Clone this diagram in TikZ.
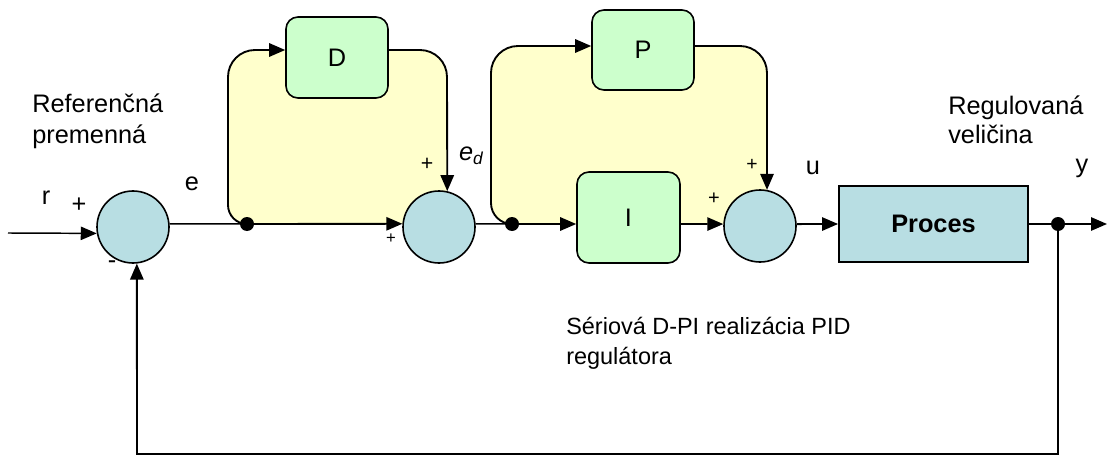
\documentclass[tikz,border=0pt]{standalone}
\usepackage{fontspec}
\setmainfont{Liberation Sans}
\usetikzlibrary{arrows.meta}
\definecolor{yel}{HTML}{FFFFCC}
\definecolor{grn}{HTML}{CCFFCC}
\definecolor{cya}{HTML}{B8DEE3}
\begin{document}
\begin{tikzpicture}[x=0.75pt,y=-0.75pt,
 wire/.style={line width=1.4pt},
 arr/.style={wire,-{Triangle[length=12pt,width=10pt]}},
 sumnode/.style={circle,draw,line width=1.2pt,fill=cya,minimum size=54pt,inner sep=0pt},
 blk/.style={draw,line width=1.2pt,fill=grn,rounded corners=9pt,inner sep=0pt,font=\fontsize{19}{21}\selectfont},
 dotn/.style={circle,fill=black,minimum size=10.5pt,inner sep=0pt},
 lab/.style={font=\fontsize{19}{22}\selectfont,inner sep=0pt},
 sgn/.style={inner sep=0pt},
 ]
\useasboundingbox (0,0) rectangle (1109,456);
% yellow regions
\fill[yel] (247,224) to[out=180,in=-90] (228,205) -- (228,77) to[out=90,in=180] (255,50)
  -- (420,50) to[out=0,in=90] (447,77) -- (447,224) -- cycle;
\fill[yel] (512,224) to[out=180,in=-90] (491,203) -- (491,73) to[out=90,in=180] (518,46)
  -- (740,46) to[out=0,in=90] (767,73) -- (767,224) -- cycle;
% nodes
\node[sumnode] (c1) at (133,227) {};
\node[sumnode] (c2) at (439,227) {};
\node[sumnode] (c3) at (760,226) {};
\node[blk, minimum width=76.5pt, minimum height=60.75pt] (D) at (337,57.5) {D};
\node[blk, minimum width=76.5pt, minimum height=60pt] (P) at (643,50) {P};
\node[blk, minimum width=77.25pt, minimum height=68.25pt] (I) at (628.5,217.5) {I};
\node[draw, line width=1.4pt, fill=cya, minimum width=141.75pt, minimum height=57pt, inner sep=0pt,
  font=\bfseries\fontsize{19}{22}\selectfont] (proc) at (933.5,224) {Proces};
\node[dotn] (d1) at (247,224) {};
\node[dotn] (d2) at (512,224) {};
\node[dotn] (d3) at (1058,224) {};
\coordinate (in) at (8,233);
\coordinate (out) at (1107,224);
\coordinate (t1) at (228,50);
\coordinate (t2) at (491,46);
\coordinate (fb1) at (1058,454);
\coordinate (fb2) at (137,454);
% connectors
\draw[wire,line width=1.1pt,-{Triangle[length=12pt,width=10pt]}] (in) -- (c1.190);
\draw[wire,line width=1.1pt] (c1.5) -- (d1.center);
\draw[arr] (d1.center) -- (c2.175);
\draw[arr] (d1.center) to[out=180,in=-90] (228,205) -- (228,77) to[out=90,in=180] (255,50) -- (D.west |- t1);
\draw[arr] (D.east |- t1) -- (420,50) to[out=0,in=90] (447,77) -- (c2.77);
\draw[wire,line width=1.1pt] (c2.5) -- (d2.center);
\draw[arr] (d2.center) -- (I.west |- d2);
\draw[arr] (d2.center) to[out=180,in=-90] (491,203) -- (491,73) to[out=90,in=180] (518,46) -- (P.west |- t2);
\draw[arr] (P.east |- t2) -- (740,46) to[out=0,in=90] (767,73) -- (c3.79);
\draw[arr] (I.east |- d2) -- (c3.177);
\draw[arr] (c3.3) -- (proc.west);
\draw[wire] (proc.east) -- (d3.center);
\draw[arr] (d3.center) -- (out);
\draw[arr] (d3.center) -- (fb1) -- (fb2) -- (c1.-84);
% labels
\node[lab, anchor=base west] (ref1) at (32,113) {Referenčná};
\node[lab, anchor=base west] (ref2) at (32,143) {premenná};
\node[lab, anchor=base west] (reg1) at (948,115) {Regulovaná};
\node[lab, anchor=base west] (reg2) at (948,143) {veličina};
\node[lab, anchor=base west, font=\fontsize{17.6}{20}\selectfont] (ser1) at (566,334) {Sériová D-PI realizácia PID};
\node[lab, anchor=base west, font=\fontsize{17.6}{20}\selectfont] (ser2) at (566,364) {regulátora};
\node[lab] (lr) at (46,198) {r};
\node[lab] (le) at (192,183.5) {e};
\node[lab] (lu) at (813,167.5) {u};
\node[lab] (ly) at (1082,168) {y};
\node[lab, font=\itshape\fontsize{19}{22}\selectfont] (led) at (471,156) {e\raisebox{-3pt}{\fontsize{13}{13}\selectfont d}};
\node[sgn, font=\fontsize{19}{21}\selectfont] (p1) at (79,205) {+};
\node[sgn, font=\fontsize{19}{21}\selectfont] (m1) at (112,265) {-};
\node[sgn, font=\fontsize{16}{18}\selectfont] (p2) at (427,164) {+};
\node[sgn, font=\fontsize{12.5}{14}\selectfont] (p3) at (391,239) {+};
\node[sgn, font=\fontsize{14.5}{16}\selectfont] (p4) at (752,165) {+};
\node[sgn, font=\fontsize{15}{17}\selectfont] (p5) at (714,199) {+};
\end{tikzpicture}
\end{document}
